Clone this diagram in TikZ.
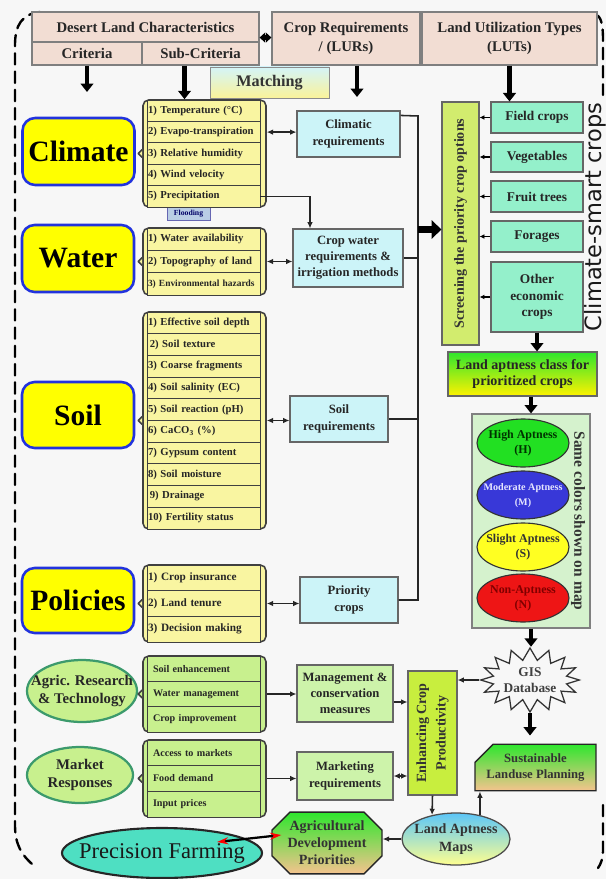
\documentclass[tikz,border=0pt]{standalone}
\usepackage{fontspec}
\setmainfont{Liberation Serif}
\newfontfamily\smartfont{DejaVu Sans}
\usepackage{graphicx}
\usetikzlibrary{arrows.meta,shapes.geometric,shapes.misc,shapes.symbols}

\newlength{\pxu}\setlength{\pxu}{0.025cm}

\definecolor{pagebg}{HTML}{F7F7F7}
\definecolor{headfill}{HTML}{F2DDD3}
\definecolor{headline}{HTML}{7F7F7F}
\definecolor{critfill}{HTML}{F9F5A1}
\definecolor{bigyellow}{HTML}{FFFF00}
\definecolor{bigblue}{HTML}{2233DD}
\definecolor{reqfill}{HTML}{CCF4F8}
\definecolor{lutfill}{HTML}{94F0CB}
\definecolor{screenfill}{HTML}{D2EC6E}
\definecolor{enhfill}{HTML}{C8EE3E}
\definecolor{greenlist}{HTML}{C8F08E}
\definecolor{mgmtfill}{HTML}{CDF3AA}
\definecolor{panelfill}{HTML}{D5F2CD}
\definecolor{floodfill}{HTML}{B9CDE5}
\definecolor{pffill}{HTML}{4EDFC2}
\definecolor{agrline}{HTML}{3C9A6C}
\definecolor{aptH}{HTML}{22E022}
\definecolor{aptM}{HTML}{3838D8}
\definecolor{aptS}{HTML}{FFFF22}
\definecolor{aptN}{HTML}{EE1515}
\definecolor{greentop}{HTML}{2EE62E}
\definecolor{peach}{HTML}{F5C38E}
\definecolor{lacyellow}{HTML}{FFF200}
\definecolor{lamblue}{HTML}{5CC6F8}
\definecolor{lamyellow}{HTML}{FFFF90}
\definecolor{matchtop}{HTML}{D4F4F8}
\definecolor{matchbot}{HTML}{FAF39A}

\newcommand{\fhead}{\fontsize{10.5}{13}\selectfont\bfseries}
\newcommand{\fbig}{\fontsize{21}{24}\selectfont\bfseries}
\newcommand{\fcrit}{\fontsize{7.6}{9}\selectfont\bfseries}
\newcommand{\fgreen}{\fontsize{7.2}{9}\selectfont\bfseries}
\newcommand{\freq}{\fontsize{9}{11.5}\selectfont\bfseries}
\newcommand{\flut}{\fontsize{9.5}{11.7}\selectfont\bfseries}
\newcommand{\fapt}{\fontsize{8.5}{11}\selectfont\bfseries}
\newcommand{\fmatch}{\fontsize{11.5}{13}\selectfont\bfseries}
\newcommand{\ovaltext}[1]{\makebox[0pt]{\begin{tabular}{@{}c@{}}#1\end{tabular}}}

\tikzset{
  head/.style={draw=headline, fill=headfill, line width=0.8pt, font=\fhead, text=black!85, inner sep=1pt, align=center},
  bigcrit/.style={draw=bigblue, fill=bigyellow, line width=1.8pt, rounded corners=9pt, font=\fbig, minimum width=112\pxu},
  critframe/.style={draw=black!75, fill=critfill, line width=1.1pt, rounded corners=4pt, minimum width=123\pxu},
  critrow/.style={draw=black!75, fill=critfill, line width=0.7pt, minimum width=113\pxu, text width=111\pxu, inner xsep=1\pxu, inner ysep=0pt, align=left, font=\fcrit, text=black!85},
  greenframe/.style={critframe, fill=greenlist},
  greenrow/.style={critrow, fill=greenlist, text width=101\pxu, inner xsep=6\pxu, font=\fgreen},
  notch/.style={draw=black!75, line width=1.1pt, line join=round},
  req/.style={draw=black!60, fill=reqfill, line width=0.8pt, font=\freq, text=black!85, align=center, inner sep=1pt},
  mgmtbox/.style={req, fill=mgmtfill},
  lut/.style={draw=black!60, fill=lutfill, line width=0.8pt, font=\flut, text=black!85, align=center, minimum width=92\pxu, inner sep=1pt},
  apt/.style={ellipse, draw=black!80, line width=0.8pt, minimum width=92\pxu, minimum height=48\pxu, inner sep=0pt, font=\fapt},
  factor/.style={ellipse, draw=agrline, fill=greenlist, line width=1.6pt, font=\fhead, text=black!85, inner sep=0pt},
  fat/.style={line width=3pt, -{Triangle[width=9pt,length=6pt]}},
  bigfat/.style={line width=5pt, -{Triangle[width=13pt,length=7pt]}},
  link/.style={line width=1.1pt, draw=black!85, -{Latex[length=4.5pt,width=4pt]}},
  dbl/.style={line width=1.1pt, draw=black!85, {Latex[length=4.5pt,width=4pt]}-{Latex[length=4.5pt,width=4pt]}},
  tiny/.style={line width=0.8pt, -{Latex[length=3.5pt,width=3.5pt]}},
  bus/.style={line width=1.1pt, draw=black!85},
  dashborder/.style={line width=1.7pt, dash pattern=on 8pt off 5pt, line cap=round}
}

\begin{document}
\begin{tikzpicture}[x=0.025cm, y=-0.025cm]
  \fill[pagebg] (0,0) rectangle (606,879);
  \useasboundingbox (0,0) rectangle (606,879);

  % dashed frame round the whole chart
  \draw[dashborder] (40,12) .. controls (22,14) and (15,25) .. (15,45) -- (15,825) .. controls (15,845) and (22,855) .. (32,864);
  \draw[dashborder] (595,14) .. controls (601,16) and (603,24) .. (603,40) -- (603,95);
  \draw[dashborder] (603,805) -- (603,850) .. controls (603,858) and (601,864) .. (598,868);

  % headers
  \node[head, minimum width=227\pxu, minimum height=30\pxu] (dlc) at (145.5,27) {Desert Land Characteristics};
  \node[head, minimum width=110\pxu, minimum height=23\pxu] (crit) at (87,53.5) {Criteria};
  \node[head, minimum width=117\pxu, minimum height=23\pxu] (subcrit) at (200.5,53.5) {Sub-Criteria};
  \node[head, minimum width=148\pxu, minimum height=53\pxu] (lurs) at (346,38.5) {Crop Requirements\\/ (LURs)};
  \node[head, minimum width=175\pxu, minimum height=53\pxu] (luts) at (509.5,38.5) {Land Utilization Types\\(LUTs)};

  \node[draw=black!45, top color=matchtop, bottom color=matchbot, minimum width=119\pxu, minimum height=31\pxu, font=\fmatch, text=black!80] (match) at (269.5,82.5) {Matching};

  % criteria
  \node[bigcrit, minimum height=67\pxu] (climate) at (78.5,151.5) {Climate};
  \node[bigcrit, minimum height=67\pxu] (water) at (78,258.5) {Water};
  \node[bigcrit, minimum height=66\pxu] (soil) at (78,415) {Soil};
  \node[bigcrit, minimum height=65\pxu] (policies) at (78,600.5) {Policies};
  \node[factor, minimum width=110\pxu, minimum height=62\pxu] (agric) at (82,691) {\ovaltext{Agric. Research\\\& Technology}};
  \node[factor, minimum width=106\pxu, minimum height=56\pxu] (market) at (80,775) {\ovaltext{Market\\Responses}};

  % sub-criteria: climate
  \node[draw=black!50!blue!60, fill=floodfill, minimum width=43\pxu, minimum height=13\pxu, inner sep=0pt, font=\fontsize{5.5}{6}\selectfont\bfseries, text=black!60!blue] (flood) at (188.5,213.5) {Flooding};
  \node[critframe, minimum height=107\pxu] (climlist) at (204.5,153.5) {};
  \draw[notch, fill=critfill] ([yshift=4\pxu]climlist.west) -- ++(-4\pxu,-4\pxu) -- ++(4\pxu,-4\pxu);
  \node[critrow, minimum height=21.4\pxu] (climT) at (203.5,110.7) {1) Temperature (°C)};
  \node[critrow, minimum height=21.4\pxu] (climE) at (203.5,132.1) {2) Evapo-transpiration};
  \node[critrow, minimum height=21.4\pxu] (climR) at (203.5,153.5) {3) Relative humidity};
  \node[critrow, minimum height=21.4\pxu] (climW) at (203.5,174.9) {4) Wind velocity};
  \node[critrow, minimum height=21.4\pxu] (climP) at (203.5,196.3) {5) Precipitation};

  % sub-criteria: water
  \node[critframe, minimum height=67\pxu] (waterlist) at (204.5,261.5) {};
  \draw[notch, fill=critfill] ([yshift=4\pxu]waterlist.west) -- ++(-4\pxu,-4\pxu) -- ++(4\pxu,-4\pxu);
  \node[critrow, minimum height=22.33\pxu] (watA) at (203.5,239.17) {1) Water availability};
  \node[critrow, minimum height=22.33\pxu] (watT) at (203.5,261.5) {2) Topography of land};
  \node[critrow, minimum height=22.33\pxu, font=\fontsize{6.7}{8}\selectfont\bfseries] (watH) at (203.5,283.83) {3) Environmental hazards};

  % sub-criteria: soil
  \node[critframe, minimum height=217\pxu] (soillist) at (204.5,420.5) {};
  \draw[notch, fill=critfill] ([yshift=4\pxu]soillist.west) -- ++(-4\pxu,-4\pxu) -- ++(4\pxu,-4\pxu);
  \node[critrow, minimum height=21.7\pxu] (soil1) at (203.5,322.85) {1) Effective soil depth};
  \node[critrow, minimum height=21.7\pxu] (soil2) at (203.5,344.55) {\,2) Soil texture};
  \node[critrow, minimum height=21.7\pxu] (soil3) at (203.5,366.25) {3) Coarse fragments};
  \node[critrow, minimum height=21.7\pxu] (soil4) at (203.5,387.95) {4) Soil salinity (EC)};
  \node[critrow, minimum height=21.7\pxu] (soil5) at (203.5,409.65) {5) Soil reaction (pH)};
  \node[critrow, minimum height=21.7\pxu] (soil6) at (203.5,431.35) {6) CaCO\textsubscript{3} (\%)};
  \node[critrow, minimum height=21.7\pxu] (soil7) at (203.5,453.05) {7) Gypsum content};
  \node[critrow, minimum height=21.7\pxu] (soil8) at (203.5,474.75) {8) Soil moisture};
  \node[critrow, minimum height=21.7\pxu] (soil9) at (203.5,496.45) {\,9) Drainage};
  \node[critrow, minimum height=21.7\pxu] (soil10) at (203.5,518.15) {10) Fertility status};

  % sub-criteria: policies
  \node[critframe, minimum height=77\pxu] (pollist) at (204.5,603.5) {};
  \draw[notch, fill=critfill] ([yshift=4\pxu]pollist.west) -- ++(-4\pxu,-4\pxu) -- ++(4\pxu,-4\pxu);
  \node[critrow, minimum height=25.67\pxu, font=\fontsize{8}{9}\selectfont\bfseries] (pol1) at (203.5,577.83) {1) Crop insurance};
  \node[critrow, minimum height=25.67\pxu, font=\fontsize{8}{9}\selectfont\bfseries] (pol2) at (203.5,603.5) {2) Land tenure};
  \node[critrow, minimum height=25.67\pxu, font=\fontsize{8}{9}\selectfont\bfseries] (pol3) at (203.5,629.17) {3) Decision making};

  % research and market lists
  \node[greenframe, minimum height=76\pxu] (aglist) at (204.5,694) {};
  \draw[notch, fill=greenlist] ([yshift=4\pxu]aglist.west) -- ++(-4\pxu,-4\pxu) -- ++(4\pxu,-4\pxu);
  \node[greenrow, minimum height=25.33\pxu] (ag1) at (203.5,668.67) {Soil enhancement};
  \node[greenrow, minimum height=25.33\pxu] (ag2) at (203.5,694) {Water management};
  \node[greenrow, minimum height=25.33\pxu] (ag3) at (203.5,719.33) {Crop improvement};

  \node[greenframe, minimum height=77\pxu] (mktlist) at (204.5,778.5) {};
  \draw[notch, fill=greenlist] ([yshift=4\pxu]mktlist.west) -- ++(-4\pxu,-4\pxu) -- ++(4\pxu,-4\pxu);
  \node[greenrow, minimum height=25.67\pxu] (mkt1) at (203.5,752.83) {Access to markets};
  \node[greenrow, minimum height=25.67\pxu] (mkt2) at (203.5,778.5) {Food demand};
  \node[greenrow, minimum height=25.67\pxu] (mkt3) at (203.5,804.17) {Input prices};

  % requirements
  \node[req, minimum width=103\pxu, minimum height=46\pxu] (climreq) at (348.5,134) {Climatic\\requirements};
  \node[req, minimum width=110\pxu, minimum height=58\pxu] (cropwater) at (348,258) {Crop water\\requirements \&\\irrigation methods};
  \node[req, minimum width=98\pxu, minimum height=46\pxu] (soilreq) at (339,419) {Soil\\requirements};
  \node[req, minimum width=98\pxu, minimum height=46\pxu] (prio) at (349,600) {Priority\\crops};
  \node[mgmtbox, minimum width=96\pxu, minimum height=57\pxu] (mgmt) at (345,693.5) {Management \&\\conservation\\measures};
  \node[mgmtbox, minimum width=96\pxu, minimum height=48\pxu] (mktreq) at (345,776) {Marketing\\requirements};

  % screening and land utilization types
  \node[draw=black!60, fill=screenfill, line width=0.8pt, minimum width=37\pxu, minimum height=243\pxu, inner sep=0pt, font=\fontsize{10}{12}\selectfont\bfseries, text=black!80] (screen) at (460.5,223.5) {\rotatebox{90}{Screening the priority crop options}};
  \node[lut, minimum height=31\pxu] (field) at (537,117.5) {Field crops};
  \node[lut, minimum height=30\pxu] (veg) at (537,157) {Vegetables};
  \node[lut, minimum height=31\pxu] (fruit) at (537,196.5) {Fruit trees};
  \node[lut, minimum height=31\pxu] (forage) at (537,236.5) {Forages};
  \node[lut, minimum height=70\pxu] (other) at (537,297) {Other\\economic\\crops};
  \node[rotate=90, font=\smartfont\fontsize{16}{18}\selectfont, text=black!90, inner sep=0pt] (smart) at (595,217) {Climate-smart crops};

  % aptness classes
  \node[draw=black!60, line width=0.8pt, top color=greentop, bottom color=lacyellow, minimum width=149\pxu, minimum height=44\pxu, inner sep=1pt, align=center, font=\fontsize{10}{12}\selectfont\bfseries, text=black!85] (lac) at (522.5,374) {Land aptness class for\\prioritized crops};
  \node[draw=black!50, fill=panelfill, line width=0.8pt, minimum width=118\pxu, minimum height=214\pxu] (panel) at (531,521) {};
  \node[apt, fill=aptH, text=black!80!green] (aptH) at (523,443) {\ovaltext{High Aptness\\(H)}};
  \node[apt, fill=aptM, text=white!90!blue, font=\fontsize{7.2}{11}\selectfont\bfseries] (aptM) at (523,495) {\ovaltext{Moderate Aptness\\(M)}};
  \node[apt, fill=aptS, text=black!80] (aptS) at (523,547) {\ovaltext{Slight Aptness\\(S)}};
  \node[apt, fill=aptN, text=black!50!red] (aptN) at (523,598) {\ovaltext{Non-Aptness\\(N)}};
  \node[rotate=-90, font=\fontsize{11}{13}\selectfont\bfseries, text=black!80, inner sep=0pt] (samecol) at (578,521) {Same colors shown on map};

  % GIS and outputs
  \node[starburst, starburst points=16, starburst point height=12\pxu, random starburst=0, draw=black!80, fill=gray!6, line width=0.9pt, minimum width=92\pxu, minimum height=64\pxu, inner sep=0pt, align=center, font=\fontsize{9.5}{11.5}\selectfont\bfseries, text=black!75] (gis) at (530,680) {GIS\\Database};
  \node[chamfered rectangle, chamfered rectangle corners=north west, chamfered rectangle xsep=10\pxu, chamfered rectangle ysep=8\pxu, draw=black!85, line width=1pt, top color=greentop, bottom color=peach, minimum width=115\pxu, minimum height=45\pxu, inner sep=1pt, align=center, font=\fontsize{9}{11.5}\selectfont\bfseries, text=black!80] (sust) at (535.5,767.5) {Sustainable\\Landuse Planning};
  \node[draw=black!60, fill=enhfill, line width=0.8pt, minimum width=49\pxu, minimum height=124\pxu, inner sep=0pt, font=\fontsize{10}{12}\selectfont\bfseries, text=black!80] (enh) at (432.5,733) {\rotatebox{90}{\begin{tabular}{@{}c@{}}Enhancing Crop\\[2pt]Productivity\end{tabular}}};
  \node[ellipse, draw=black!70, line width=0.9pt, top color=lamblue, bottom color=lamyellow, minimum width=108\pxu, minimum height=52\pxu, inner sep=0pt, font=\fontsize{10}{12.5}\selectfont\bfseries, text=black!80] (lam) at (456,839) {\ovaltext{Land Aptness\\Maps}};
  \node[chamfered rectangle, chamfered rectangle xsep=9\pxu, chamfered rectangle ysep=9\pxu, draw=black!85, line width=1pt, top color=greentop, bottom color=peach, minimum width=110\pxu, minimum height=56\pxu, inner sep=0pt, align=center, font=\fontsize{10}{12}\selectfont\bfseries, text=black!80] (adp) at (327,843) {Agricultural\\Development\\Priorities};
  \node[ellipse, draw=black!85, fill=pffill, line width=1.5pt, minimum width=200\pxu, minimum height=50\pxu, inner sep=0pt, font=\fontsize{16}{18}\selectfont, text=black!90] (pf) at (162,853) {\ovaltext{Precision Farming}};

  % fat arrows
  \coordinate (critend) at (87,92);
  \coordinate (subout) at ([xshift=-16\pxu]subcrit.south);
  \coordinate (lursout) at ([xshift=11\pxu]lurs.south);
  \coordinate (lursend) at (357,97);
  \draw[line width=3pt, {Triangle[width=7pt,length=4pt]}-{Triangle[width=7pt,length=4pt]}] ([yshift=5\pxu]dlc.south east) -- ([yshift=5\pxu]dlc.south east -| lurs.west);
  \draw[fat] (crit.south) -- (critend);
  \draw[fat] (subout) -- (subout |- climlist.north);
  \draw[fat] (lursout) -- (lursend);
  \draw[fat] (luts.south) -- (luts.south |- field.north);
  \draw[fat] (other.south) -- (other.south |- lac.north);
  \draw[fat] (panel.north |- lac.south) -- (panel.north);
  \draw[fat] (panel.south) -- (panel.south |- gis.north);
  \draw[fat, shorten >=8\pxu] (gis.south) -- (gis.south |- sust.north);

  % links to requirements
  \draw[dbl] (climlist.east |- climE) -- (climreq.west |- climE);
  \draw[link] (climP.east) -| ([xshift=-38\pxu]cropwater.north);
  \draw[dbl] (waterlist.east |- watT) -- (cropwater.west |- watT);
  \draw[dbl] (soillist.east) -- (soillist.east -| soilreq.west);
  \draw[dbl] (pollist.east) -- (pollist.east -| prio.west);
  \draw[link] (aglist.east) -- (aglist.east -| mgmt.west);
  \draw[link] (mktlist.east) -- (mktlist.east -| mktreq.west);

  % requirements into screening
  \coordinate (bustop) at (418,116);
  \coordinate (busbot) at (418,600);
  \coordinate (screenin) at ([yshift=-6\pxu]screen.west);
  \draw[bus] ([yshift=-5\pxu]climreq.north east) -- (bustop) -- (busbot) -- (prio.east);
  \draw[bus] (cropwater.east) -- (cropwater.east -| bustop);
  \draw[bus] (soilreq.east) -- (soilreq.east -| bustop);
  \draw[bigfat] (screenin -| bustop) -- (screenin);

  \draw[tiny] (field.west) -- (field.west -| screen.east);
  \draw[tiny] (veg.west) -- (veg.west -| screen.east);
  \draw[tiny] (fruit.west) -- (fruit.west -| screen.east);
  \draw[tiny] (forage.west) -- (forage.west -| screen.east);
  \draw[tiny] (other.west) -- (other.west -| screen.east);

  % productivity part
  \coordinate (mgmtout) at ([yshift=-8.5\pxu]mgmt.east);
  \draw[link] (mgmtout) -- (mgmtout -| enh.west);
  \draw[dbl] (mktreq.east) -- (mktreq.east -| enh.west);
  \draw[link, line width=1.8pt] (gis.west) -- (gis.west -| enh.east);
  \draw[link] (enh.south) -- (lam.135);
  \draw[link, line width=1.6pt] (lam.west) -- (lam.west -| adp.east);
  \draw[link] (lam.45) -- (lam.45 |- sust.south);
  \draw[line width=1.6pt, {Stealth[color=red,length=8pt,width=5pt]}-{Stealth[color=red,length=8pt,width=5pt]}] ([xshift=55\pxu,yshift=11\pxu]pf.center) -- ([xshift=10\pxu,yshift=8\pxu]adp.west);
\end{tikzpicture}
\end{document}
